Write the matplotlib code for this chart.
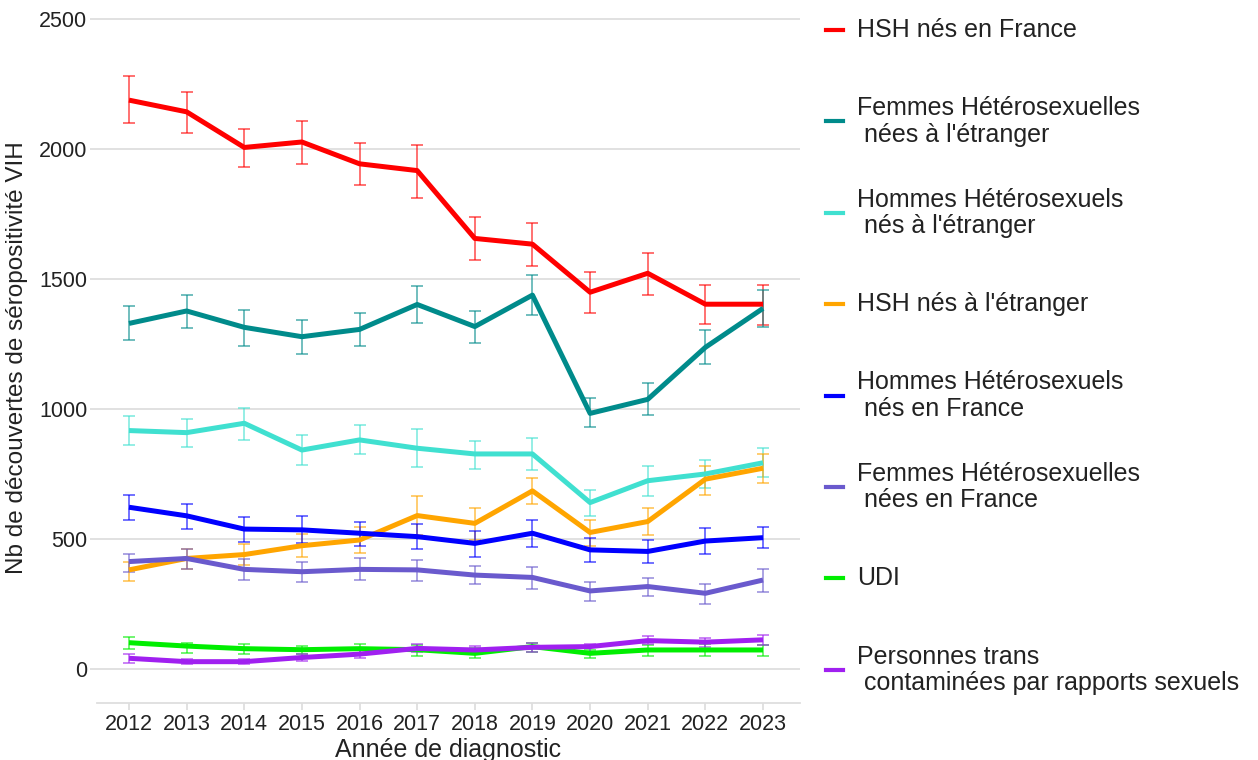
import matplotlib
matplotlib.use("Agg")
import matplotlib.pyplot as plt
from matplotlib.lines import Line2D
import numpy as np

plt.rcParams['font.family'] = ['Liberation Sans', 'DejaVu Sans']

years = list(range(2012, 2024))

labels = [
    "HSH nés en France",
    "Femmes Hétérosexuelles\n nées à l'étranger",
    "Hommes Hétérosexuels\n nés à l'étranger",
    "HSH nés à l'étranger",
    "Hommes Hétérosexuels\n nés en France",
    "Femmes Hétérosexuelles\n nées en France",
    "UDI",
    "Personnes trans\n contaminées par rapports sexuels",
]
colors = ["#FF0000", "#008B8B", "#40E0D0", "#FFA500",
          "#0000FF", "#6A5ACD", "#00EE00", "#A020F0"]

hsh_fr = [2188, 2143, 2006, 2027, 1943, 1917, 1656, 1634, 1449, 1522, 1403, 1403]
hsh_fr_lo = [2101, 2061, 1929, 1943, 1861, 1811, 1573, 1550, 1371, 1438, 1327, 1323]
hsh_fr_hi = [2280, 2220, 2078, 2109, 2024, 2014, 1740, 1717, 1526, 1599, 1477, 1477]

fem_etr = [1329, 1377, 1314, 1278, 1306, 1402, 1317, 1438, 983, 1037, 1237, 1387]
fem_etr_lo = [1264, 1310, 1242, 1210, 1243, 1329, 1255, 1361, 929, 975, 1173, 1317]
fem_etr_hi = [1396, 1438, 1381, 1342, 1371, 1473, 1375, 1515, 1041, 1099, 1304, 1458]

hom_etr = [917, 909, 945, 842, 881, 849, 827, 827, 640, 724, 750, 793]
hom_etr_lo = [862, 853, 881, 785, 827, 778, 769, 765, 589, 667, 695, 737]
hom_etr_hi = [973, 962, 1005, 900, 938, 922, 878, 887, 689, 780, 804, 851]

hsh_etr = [381, 425, 440, 474, 496, 590, 560, 685, 525, 567, 730, 772]
hsh_etr_lo = [340, 383, 400, 432, 447, 515, 496, 633, 473, 515, 671, 714]
hsh_etr_hi = [413, 463, 479, 519, 547, 667, 620, 733, 573, 620, 780, 827]

hom_fr = [622, 589, 538, 535, 522, 509, 483, 522, 458, 452, 492, 505]
hom_fr_lo = [573, 538, 490, 483, 474, 461, 432, 470, 410, 406, 442, 467]
hom_fr_hi = [669, 633, 586, 589, 567, 558, 531, 573, 505, 496, 543, 547]

fem_fr = [413, 425, 383, 374, 383, 381, 361, 352, 300, 317, 291, 342]
fem_fr_lo = [374, 385, 344, 336, 344, 340, 327, 308, 261, 281, 250, 297]
fem_fr_hi = [444, 463, 423, 410, 425, 419, 396, 394, 336, 351, 328, 384]

udi = [101, 88, 78, 74, 78, 74, 60, 86, 60, 73, 73, 73]
udi_lo = [77, 63, 58, 57, 60, 50, 41, 67, 41, 50, 51, 50]
udi_hi = [124, 101, 96, 90, 95, 92, 79, 101, 73, 92, 96, 92]

trans = [41, 28, 28, 44, 57, 79, 73, 83, 86, 109, 103, 112]
trans_lo = [24, 18, 18, 32, 44, 67, 58, 67, 60, 95, 83, 92]
trans_hi = [58, 38, 37, 57, 73, 96, 88, 98, 96, 127, 120, 131]

values = [hsh_fr, fem_etr, hom_etr, hsh_etr, hom_fr, fem_fr, udi, trans]
lowers = [hsh_fr_lo, fem_etr_lo, hom_etr_lo, hsh_etr_lo, hom_fr_lo, fem_fr_lo, udi_lo, trans_lo]
uppers = [hsh_fr_hi, fem_etr_hi, hom_etr_hi, hsh_etr_hi, hom_fr_hi, fem_fr_hi, udi_hi, trans_hi]

W, H = 1258, 760
fig = plt.figure(figsize=(W / 100, H / 100), dpi=100)
ax = fig.add_axes([97 / W, 57 / H, 703 / W, 691 / H])

for vals, lo, hi, col in zip(values, lowers, uppers, colors):
    v = np.array(vals)
    err = [v - np.array(lo), np.array(hi) - v]
    ax.errorbar(years, v, yerr=err, fmt='none', ecolor=col, alpha=0.65,
                elinewidth=1.2, capsize=4, capthick=1.2, zorder=3)
    ax.plot(years, v, color=col, linewidth=3.6, solid_capstyle='butt', zorder=4)

ax.set_xlim(2011.445, 2023.642)
ax.set_ylim(-131, 2527)
ax.set_xticks(years)
ax.set_yticks([0, 500, 1000, 1500, 2000, 2500])
ax.grid(axis='y', color='#DEDEDE', linewidth=1.3, zorder=0)
for s in ['top', 'right', 'left']:
    ax.spines[s].set_visible(False)
ax.spines['bottom'].set_color('#DEDEDE')
ax.spines['bottom'].set_linewidth(1.3)
ax.tick_params(axis='both', colors='#DEDEDE', width=1.3, length=5,
               labelsize=15.5, labelcolor='#222222')
ax.tick_params(axis='y', pad=2)
ax.tick_params(axis='x', pad=3)

ax.set_xlabel("Année de diagnostic", fontsize=18, color='#222222', labelpad=2)
ax.set_ylabel("Nb de découvertes de séropositivité VIH", fontsize=17.5,
              color='#222222', labelpad=8)

# legend, drawn by hand so the keys are evenly spaced
for i, (lab, col) in enumerate(zip(labels, colors)):
    yc = 1 - (30 + i * 91.4) / H
    fig.add_artist(Line2D([826 / W, 843 / W], [yc, yc], color=col,
                          linewidth=3.0, transform=fig.transFigure))
    fig.text(857 / W, yc, lab, fontsize=18, color='#222222',
             va='center', ha='left', linespacing=1.12)

fig.savefig("out.png", dpi=100)
